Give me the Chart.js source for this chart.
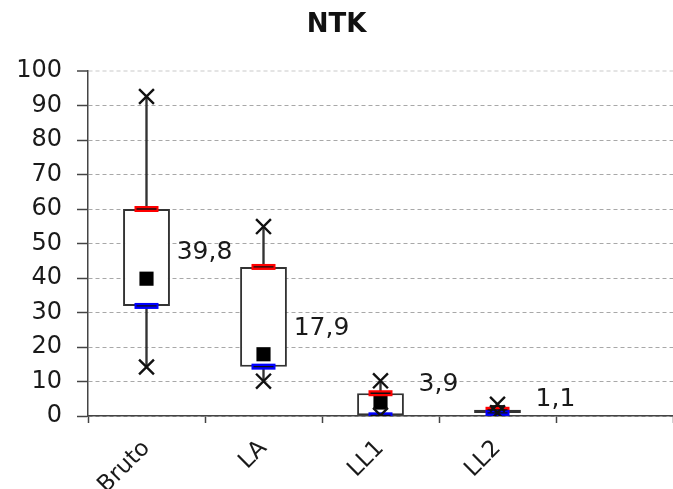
<!DOCTYPE html>
<html>
<head>
<meta charset="utf-8">
<script src="https://cdn.jsdelivr.net/npm/chart.js@4.4.0/dist/chart.umd.min.js"></script>
<style>
  body { margin: 0; background: #fff; }
  canvas { display: block; }
</style>
</head>
<body>
<canvas id="myChart" width="673" height="489"></canvas>
<script>
// categories (last one is the empty slot at the right of the axis)
const categories = ['Bruto', 'LA', 'LL1', 'LL2', ''];

// box plot values
const maxValues  = [92.6, 54.9, 10.2, 3.4];
const q3Values   = [60.0, 43.2, 6.6, 1.8];
const meanValues = [39.8, 17.9, 3.9, 1.1];
const q1Values   = [31.9, 14.3, 0.2, 0.9];
const minValues  = [14.2, 10.1, 0.2, 0.9];

const yTicks = [0, 10, 20, 30, 40, 50, 60, 70, 80, 90, 100];

const FONT = '"DejaVu Sans", "Liberation Sans", Arial, sans-serif';

document.addEventListener('DOMContentLoaded', function () {
    const whiskers = maxValues.map((mx, i) => [minValues[i], mx]);
    const boxes = q3Values.map((q3, i) => [q1Values[i], q3]);

    // writes the mean value next to each box
    const meanLabels = {
        id: 'meanLabels',
        afterDatasetsDraw(chart) {
            const ctx = chart.ctx;
            const x = chart.scales.x;
            const y = chart.scales.y;
            ctx.save();
            ctx.font = '25px ' + FONT;
            ctx.fillStyle = '#1a1a1a';
            ctx.textAlign = 'center';
            ctx.textBaseline = 'middle';
            meanValues.forEach((m, i) => {
                const my = y.getPixelForValue(m);
                // labels sit above the mean, closer to it near the axis
                const lift = 26 - 0.6 * Math.max(0, my - 390);
                ctx.fillText(m.toFixed(1).replace('.', ','), x.getPixelForValue(i) + 58, my - lift);
            });
            ctx.restore();
        }
    };

    const ctx = document.getElementById('myChart').getContext('2d');

    new Chart(ctx, {
        type: 'bar',
        data: {
            labels: categories,
            datasets: [
                {
                    label: 'whisker',
                    data: whiskers,
                    backgroundColor: '#333',
                    barThickness: 1.7,
                    grouped: false,
                    order: 10
                },
                {
                    label: 'box',
                    data: boxes,
                    backgroundColor: '#fff',
                    borderColor: '#333',
                    borderWidth: 2,
                    borderSkipped: false,
                    barPercentage: 0.4,
                    categoryPercentage: 1,
                    grouped: false,
                    order: 9
                },
                {
                    type: 'line',
                    label: 'mean',
                    data: meanValues,
                    showLine: false,
                    pointStyle: 'rect',
                    pointRadius: 10,
                    pointBackgroundColor: '#000',
                    pointBorderColor: '#000',
                    pointBorderWidth: 0,
                    order: 8
                },
                {
                    type: 'line',
                    label: 'Q3',
                    data: q3Values,
                    showLine: false,
                    pointStyle: 'line',
                    pointRadius: 12,
                    pointBorderColor: '#ff0000',
                    pointBorderWidth: 6,
                    order: 7
                },
                {
                    type: 'line',
                    label: 'Q1',
                    data: q1Values,
                    showLine: false,
                    pointStyle: 'line',
                    pointRadius: 12,
                    pointBorderColor: '#0000ff',
                    pointBorderWidth: 6,
                    order: 6
                },
                {
                    type: 'line',
                    label: 'Q3 line',
                    data: q3Values,
                    showLine: false,
                    pointStyle: 'line',
                    pointRadius: 10,
                    pointBorderColor: '#111',
                    pointBorderWidth: 1.3,
                    order: 5
                },
                {
                    type: 'line',
                    label: 'Q1 line',
                    data: q1Values,
                    showLine: false,
                    pointStyle: 'line',
                    pointRadius: 10,
                    pointBorderColor: '#111',
                    pointBorderWidth: 1.3,
                    order: 4
                },
                {
                    type: 'line',
                    label: 'max',
                    data: maxValues,
                    showLine: false,
                    pointStyle: 'crossRot',
                    pointRadius: 10.5,
                    pointBorderColor: '#111',
                    pointBorderWidth: 2.4,
                    order: 3
                },
                {
                    type: 'line',
                    label: 'min',
                    data: minValues,
                    showLine: false,
                    pointStyle: 'crossRot',
                    pointRadius: 10.5,
                    pointBorderColor: '#111',
                    pointBorderWidth: 2.4,
                    order: 2
                }
            ]
        },
        options: {
            responsive: false,
            animation: false,
            events: [],
            layout: { padding: 0, autoPadding: false },
            plugins: {
                legend: { display: false },
                tooltip: { enabled: false },
                title: {
                    display: true,
                    text: 'NTK',
                    color: '#111',
                    font: { family: FONT, size: 26, weight: 'bold', lineHeight: 1.2 },
                    padding: { top: 10, bottom: 29.8 }
                }
            },
            scales: {
                x: {
                    offset: true,
                    grid: {
                        offset: true,
                        drawOnChartArea: false,
                        drawTicks: true,
                        tickLength: 7,
                        // no tick mark at the very right edge
                        tickColor: c => (c.index >= categories.length ? 'rgba(0,0,0,0)' : '#444'),
                        tickWidth: 1.5
                    },
                    border: { color: '#444', width: 1.5 },
                    ticks: {
                        color: '#1a1a1a',
                        font: { family: FONT, size: 23 },
                        minRotation: 45,
                        maxRotation: 45,
                        padding: 12
                    },
                    afterFit: s => { s.height = 73; s.paddingRight = 0; }
                },
                y: {
                    min: 0,
                    max: 100,
                    afterBuildTicks: s => { s.ticks = yTicks.map(v => ({ value: v })); },
                    grid: {
                        color: c => (c.tick && c.tick.value === 100 ? '#e4e4e4' : '#a8a8a8'),
                        lineWidth: c => (c.tick && c.tick.value === 100 ? 2 : 1),
                        tickLength: 11,
                        tickColor: '#444',
                        tickWidth: 1.5
                    },
                    border: { color: '#444', width: 1.5, dash: [4, 3] },
                    ticks: {
                        color: '#1a1a1a',
                        font: { family: FONT, size: 24 },
                        padding: 15
                    },
                    afterFit: s => { s.width = 88; }
                }
            }
        },
        plugins: [meanLabels]
    });
});
</script>
</body>
</html>
